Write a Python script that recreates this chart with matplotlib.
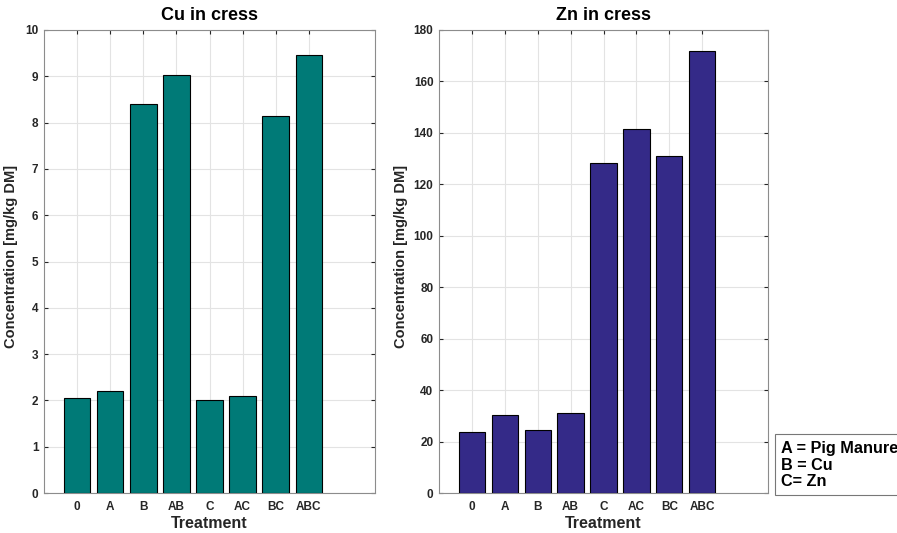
import matplotlib
matplotlib.use("Agg")
import matplotlib.pyplot as plt
from matplotlib.patches import Rectangle

plt.rcParams['font.family'] = ['Liberation Sans', 'DejaVu Sans']
plt.rcParams['font.weight'] = 'bold'

treatments = ["0", "A", "B", "AB", "C", "AC", "BC", "ABC"]
cu_values = [2.05, 2.2, 8.41, 9.03, 2.01, 2.1, 8.15, 9.45]
zn_values = [23.7, 30.3, 24.6, 31.2, 128.4, 141.7, 131.2, 172.0]
cu_yticks = list(range(0, 11))
zn_yticks = list(range(0, 181, 20))

W, H = 897, 533
fig = plt.figure(figsize=(W / 100, H / 100), dpi=100)

def axes_px(left, top, right, bottom):
    return fig.add_axes([left / W, 1 - bottom / H, (right - left) / W, (bottom - top) / H])

def style(ax, title, values, color, ymax, yticks, ylabel_x):
    x = list(range(1, len(values) + 1))
    ax.bar(x, values, width=0.8, color=color, edgecolor='black', linewidth=0.8, zorder=3)
    ax.set_xlim(0, 10)
    ax.set_ylim(0, ymax)
    ax.set_xticks(x)
    ax.set_xticklabels(treatments)
    ax.set_yticks(yticks)
    ax.grid(True, color='#e3e3e3', linewidth=0.8, zorder=0)
    ax.tick_params(direction='in', top=True, right=True, length=3, width=0.8,
                   colors='#262626', labelsize=8.5)
    ax.tick_params(axis='y', pad=4)
    ax.tick_params(axis='x', pad=6)
    for lbl in ax.get_xticklabels() + ax.get_yticklabels():
        lbl.set_fontweight('bold')
    for s in ax.spines.values():
        s.set_color('#8c8c8c')
        s.set_linewidth(0.8)
    ax.set_title(title, fontsize=13, fontweight='bold', pad=7)
    ax.set_xlabel('Treatment', fontsize=11.5, fontweight='bold', color='#262626', labelpad=2)
    ax.set_ylabel('Concentration [mg/kg DM]', fontsize=10.5, fontweight='bold', color='#262626')
    ax.yaxis.set_label_coords(ylabel_x, 0.512)

ax1 = axes_px(44, 30, 375, 493)
style(ax1, 'Cu in cress', cu_values, '#007a77', 10, cu_yticks, -0.079)

ax2 = axes_px(439, 30, 768, 493)
style(ax2, 'Zn in cress', zn_values, '#342a88', 180, zn_yticks, -0.094)

# key for the treatment letters, running off the right edge
fig.patches.append(Rectangle((775 / W, 1 - 495 / H), 140 / W, 61 / H,
                             transform=fig.transFigure, facecolor='white',
                             edgecolor='#777777', linewidth=0.8))
fig.text(781 / W, 1 - 465 / H, 'A = Pig Manure\nB = Cu\nC= Zn', fontsize=11.7,
         fontweight='bold', va='center', ha='left', linespacing=1.15)

fig.savefig('out.png', dpi=100)
